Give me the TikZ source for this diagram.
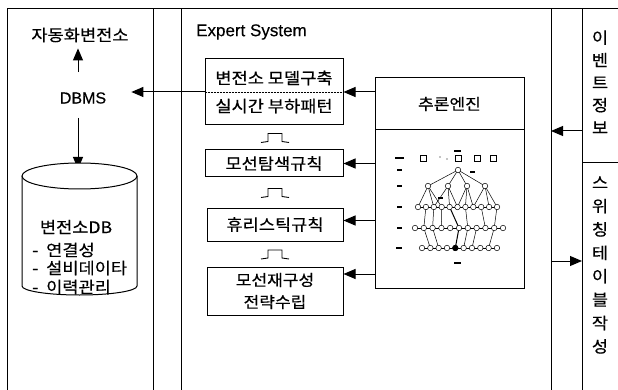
\documentclass[tikz,border=0pt]{standalone}
\usepackage{fontspec}
\setmainfont{Liberation Sans}[FakeBold=0.3]
\newfontfamily\kr{Noto Sans CJK KR}[FakeStretch=1.1,FakeBold=0.4]
\usetikzlibrary{arrows.meta,calc}
\tikzset{
  ln/.style={line width=1pt},
  arr/.style={line width=1pt,-{Triangle[length=12pt,width=10pt]}},
  krtxt/.style={font=\kr\fontsize{16}{19}\selectfont,inner sep=0pt},
  stepbox/.style={draw,line width=1pt,minimum width=138pt,align=center,inner sep=0pt,font=\kr\fontsize{16}{19}\selectfont},
  vtxt/.style={align=center,inner sep=0pt},
  tn/.style={circle,draw,fill=white,line width=0.5pt,minimum size=5.5pt,inner sep=0pt},
  tedge/.style={line width=0.5pt},
  blob/.style={fill=black,minimum width=6pt,minimum height=1.4pt,inner sep=0pt},
  hollowarrow/.pic={\draw[line width=0.9pt] (-14,5) -- (-7,4) -- (-7,-4) -- (7,-4) -- (7,4) -- (14,5);}
}
\begin{document}
\begin{tikzpicture}[x=1pt,y=-1pt]
\useasboundingbox (0,0) rectangle (618,390);
\fill[white] (0,0) rectangle (618,390);
% frame
\draw[ln] (7,394) |- (622,9);
\foreach \x in {153,181,551,582} \draw[ln] (\x,9) -- (\x,394);
\draw[ln] (582,163) -- (622,163);

% left panel
\node[krtxt] (auto) at (80,35) {자동화변전소};
\node[font=\fontsize{16}{18}\selectfont,inner sep=0pt] (dbms) at (83,98) {DBMS};
\coordinate (xA) at (78,0);
\coordinate (dbin) at (78,169);
\draw[arr,shorten <=20pt,shorten >=6pt] (dbms.north -| xA) -- (auto.south -| xA);
\draw[arr,shorten <=14pt] (dbms.south -| xA) -- (dbin);
% cylinder
\fill[white] (22,176) -- (22,286) arc[start angle=180,end angle=360,x radius=57.5pt,y radius=9pt] -- (137,176) -- cycle;
\draw[ln] (22,176) -- (22,286) arc[start angle=180,end angle=360,x radius=57.5pt,y radius=9pt] -- (137,176);
\draw[ln,fill=white] (79.5,176) ellipse[x radius=57.5pt,y radius=13pt];
\node[krtxt] (db) at (76,227) {변전소DB};
\node[krtxt,anchor=west] (db1) at (32,250) {-\ \ 연결성};
\node[krtxt,anchor=west] (db2) at (32,268) {-\ \ 설비데이타};
\node[krtxt,anchor=west] (db3) at (32,287) {-\ \ 이력관리};

% expert system
\node[font=\fontsize{17}{19}\selectfont,inner sep=0pt,anchor=west] (es) at (196,32) {Expert System};
\node[stepbox,minimum height=66pt] (b1) at (274,92) {변전소 모델구축\\[9pt]실시간 부하패턴};
\draw[line width=0.5pt,densely dotted] (b1.west) -- (b1.east);
\node[stepbox,minimum height=27pt] (b2) at (274,163.5) {모선탐색규칙};
\node[stepbox,minimum height=33pt,minimum width=136pt] (b3) at (275,224.5) {휴리스틱규칙};
\node[stepbox,minimum height=48pt,minimum width=136pt,font=\kr\fontsize{15.5}{18}\selectfont] (b4) at (275,291) {모선재구성\\[4pt]전략수립};
\pic at (275,137.5) {hollowarrow};
\pic at (275,192.5) {hollowarrow};
\pic at (275,254) {hollowarrow};
\draw[arr,shorten >=25pt] (b1.west) -- (b1.west -| dbms.east);

% inference engine
\node[draw,ln,minimum width=149pt,minimum height=210pt,inner sep=0pt] (inf) at (449.5,183) {};
\draw[ln] (375,130) -- (524,130);
\node[krtxt,font=\kr\fontsize{15.5}{18}\selectfont] (inft) at (449.5,104) {추론엔진};
\coordinate (b4a) at ([yshift=17pt]b4.east);
\draw[arr] (b1.east -| inf.west) -- (b1.east);
\draw[arr] (b2.east -| inf.west) -- (b2.east);
\draw[arr] ([yshift=4pt]b3.east -| inf.west) -- ([yshift=4pt]b3.east);
\draw[arr] (b4a -| inf.west) -- (b4a);

% tree graphic
\foreach \x in {423,458,477,493} \draw[line width=0.6pt] (\x-3,155) rectangle (\x+3,161);
\fill (440,157) circle (0.6pt) (447,159) circle (0.6pt);
\node[blob,minimum width=7pt] (tl0) at (457,151) {};
\foreach \y/\w in {158/9,170/5,186/5,207/5,228/5,248/6} \node[blob,minimum width=\w pt] at (399,\y) {};
\node[blob,minimum width=7pt] (tlb) at (457,263) {};
\node[blob,minimum width=5pt] at (472,172) {};
\node[blob,minimum width=5pt] at (440,198) {};
% edges
\foreach \x in {428,448,467,485} \draw[tedge] (458,170) -- (\x,186);
\foreach \a/\b in {428/418,428/433.8,428/441.7,448/433.8,448/449.6,448/457.5,467/457.5,467/465.4,467/473.3,485/473.3,485/489.1,485/497}
  \draw[tedge] (\a,186) -- (\b,207);
\foreach \a/\b in {425.9/423.8,441.7/441.4,465.4/467.8,481.2/485.4,497/494.2,433.8/432.6}
  \draw[tedge] (\a,207) -- (\b,228);
\draw[line width=1pt] (449.6,207) -- (459,228);
\foreach \a/\b in {432.6/438.7,467.8/463.6,476.6/472,494.2/488.6,423.8/430.3}
  \draw[tedge] (\a,228) -- (\b,248);
\draw[line width=1pt] (459,228) -- (455.3,248);
\draw[tedge] (418,207) -- (497,207);
\draw[tedge] (415,228) -- (503,228);
\draw[tedge] (422,248) -- (497,248);
\node[tn] at (458,170) {};
\foreach \x in {428,448,467,485} \node[tn] at (\x,186) {};
\foreach \i in {0,...,10} \node[tn] at (418+\i*7.9,207) {};
\foreach \i in {0,...,10} \node[tn] at (415+\i*8.8,228) {};
\foreach \i in {0,...,9} \node[tn] at (422+\i*8.33,248) {};
\node[tn,fill=black] at (455.3,248) {};

% right panel
\node[vtxt,font=\kr\fontsize{16}{22.5}\selectfont] (ev) at (600,82) {이\\벤\\트\\정\\보};
\node[vtxt,font=\kr\fontsize{16}{23.4}\selectfont] (sw) at (600,265) {스\\위\\칭\\테\\이\\블\\작\\성};
\coordinate (evA) at (582,131);
\coordinate (esA) at (551,131);
\coordinate (esB) at (551,261);
\coordinate (swA) at (582,261);
\draw[arr] (evA) -- (esA);
\draw[arr] (esB) -- (swA);
\end{tikzpicture}
\end{document}
